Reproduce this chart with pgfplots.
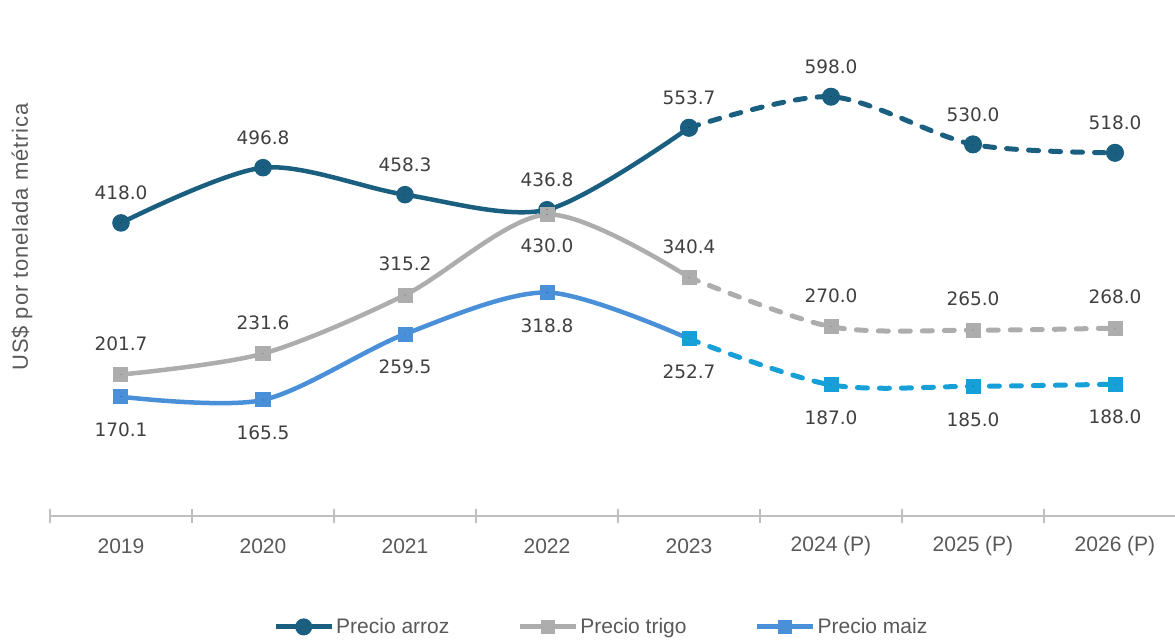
\documentclass[border=0pt]{standalone}
\usepackage{fontspec}
\setmainfont{Liberation Sans}
\newfontfamily\valfont{DejaVu Sans}
\newfontfamily\ylfont[LetterSpace=4]{Liberation Sans}
\usepackage{pgfplots}
\pgfplotsset{compat=1.18}
\definecolor{arroz}{HTML}{1A5F80}
\definecolor{trigo}{HTML}{ADADAD}
\definecolor{maiz}{HTML}{4A90D9}
\definecolor{maizp}{HTML}{17A0D8}
\definecolor{axisgray}{HTML}{BFBFBF}
\definecolor{labgray}{HTML}{595959}
\definecolor{valgray}{HTML}{404040}
\begin{document}
\begin{tikzpicture}
\path[use as bounding box] (-50pt,-124pt) rectangle (1125pt,516pt);
\begin{axis}[
  scale only axis, width=1136pt, height=490.8pt,
  xmin=-0.5, xmax=7.5, ymin=0, ymax=700,
  axis y line=none, axis x line*=bottom,
  x axis line style={draw=axisgray, line width=1.5pt},
  xtick={0,...,7},
  xticklabels={2019,2020,2021,2022,2023,2024 (P),2025 (P),2026 (P)},
  major tick length=0pt,
  minor xtick={-0.5,0.5,1.5,2.5,3.5,4.5,5.5,6.5,7.5},
  minor tick length=14pt, tick align=center,
  every minor tick/.style={draw=axisgray, line width=1.5pt},
  xticklabel style={anchor=center, yshift=-30pt, font=\fontsize{21}{25}\selectfont, text=labgray},
  clip=false,
  legend columns=3,
  legend style={draw=none, fill=none, at={(0.1963,-0.226)}, anchor=west, inner sep=0pt,
    font=\fontsize{21}{25}\selectfont, text=labgray, nodes={inner sep=0pt},
    /tikz/every odd column/.append style={column sep=2pt},
    /tikz/every even column/.append style={column sep=68pt}},
  legend image code/.code={\draw[mark repeat=2,mark phase=2,#1] plot coordinates {(0pt,0pt) (28pt,0pt) (56pt,0pt)};},
  solidline/.style={line width=4.5pt, smooth, forget plot},
  dashline/.style={line width=5pt, smooth, line cap=round, dash pattern=on 10pt off 12pt, forget plot},
  valnode/.style={only marks, mark=*, mark size=0.01pt, mark options={draw=none,fill=none}, forget plot,
    nodes near coords, point meta=explicit symbolic,
    every node near coord/.append style={anchor=center, font=\valfont\fontsize{18.5}{22}\selectfont, text=valgray}},
]
% solid parts
\addplot[arroz, solidline, mark=*, mark size=6.5pt] coordinates {(0,418.0) (1,496.8) (2,458.3) (3,436.8) (4,553.7)};
\addplot[trigo, solidline, mark=square*, mark size=7pt, mark options={line width=0pt}] coordinates {(0,201.7) (1,231.6) (2,315.2) (3,430.0) (4,340.4)};
\addplot[maiz, solidline, mark=square*, mark size=7pt, mark options={line width=0pt}] coordinates {(0,170.1) (1,165.5) (2,259.5) (3,318.8) (4,252.7)};
% dashed projections
\addplot[arroz, dashline, mark=*, mark size=6.5pt, mark options={solid}] coordinates {(4,553.7) (5,598.0) (6,530.0) (7,518.0)};
\addplot[trigo, dashline, mark=square*, mark size=7pt, mark options={solid, line width=0pt}] coordinates {(4,340.4) (5,270.0) (6,265.0) (7,268.0)};
\addplot[maizp, dashline, mark=square*, mark size=7pt, mark options={solid, line width=0pt}] coordinates {(4,252.7) (5,187.0) (6,185.0) (7,188.0)};
% value labels
\addplot[valnode, every node near coord/.append style={yshift=30pt}] coordinates {(0,418.0) [418.0] (1,496.8) [496.8] (2,458.3) [458.3] (3,436.8) [436.8] (4,553.7) [553.7] (5,598.0) [598.0] (6,530.0) [530.0] (7,518.0) [518.0]};
\addplot[valnode, every node near coord/.append style={yshift=31pt}] coordinates {(0,201.7) [201.7] (1,231.6) [231.6] (2,315.2) [315.2] (4,340.4) [340.4] (5,270.0) [270.0] (6,265.0) [265.0] (7,268.0) [268.0]};
\addplot[valnode, every node near coord/.append style={yshift=-31pt}] coordinates {(3,430.0) [430.0]};
\addplot[valnode, every node near coord/.append style={yshift=-33pt}] coordinates {(0,170.1) [170.1] (1,165.5) [165.5] (2,259.5) [259.5] (3,318.8) [318.8] (4,252.7) [252.7] (5,187.0) [187.0] (6,185.0) [185.0] (7,188.0) [188.0]};
% legend
\addlegendimage{arroz, line width=5pt, mark=*, mark size=6pt}
\addlegendentry{Precio arroz}
\addlegendimage{trigo, line width=5pt, mark=square*, mark size=6.5pt, mark options={line width=0pt}}
\addlegendentry{Precio trigo}
\addlegendimage{maiz, line width=5pt, mark=square*, mark size=6.5pt, mark options={line width=0pt}}
\addlegendentry{Precio maiz}
\end{axis}
\node[rotate=90, text=labgray, font=\ylfont\fontsize{22}{26}\selectfont] at (-28pt,279pt) {US\$ por tonelada métrica};
\end{tikzpicture}
\end{document}
